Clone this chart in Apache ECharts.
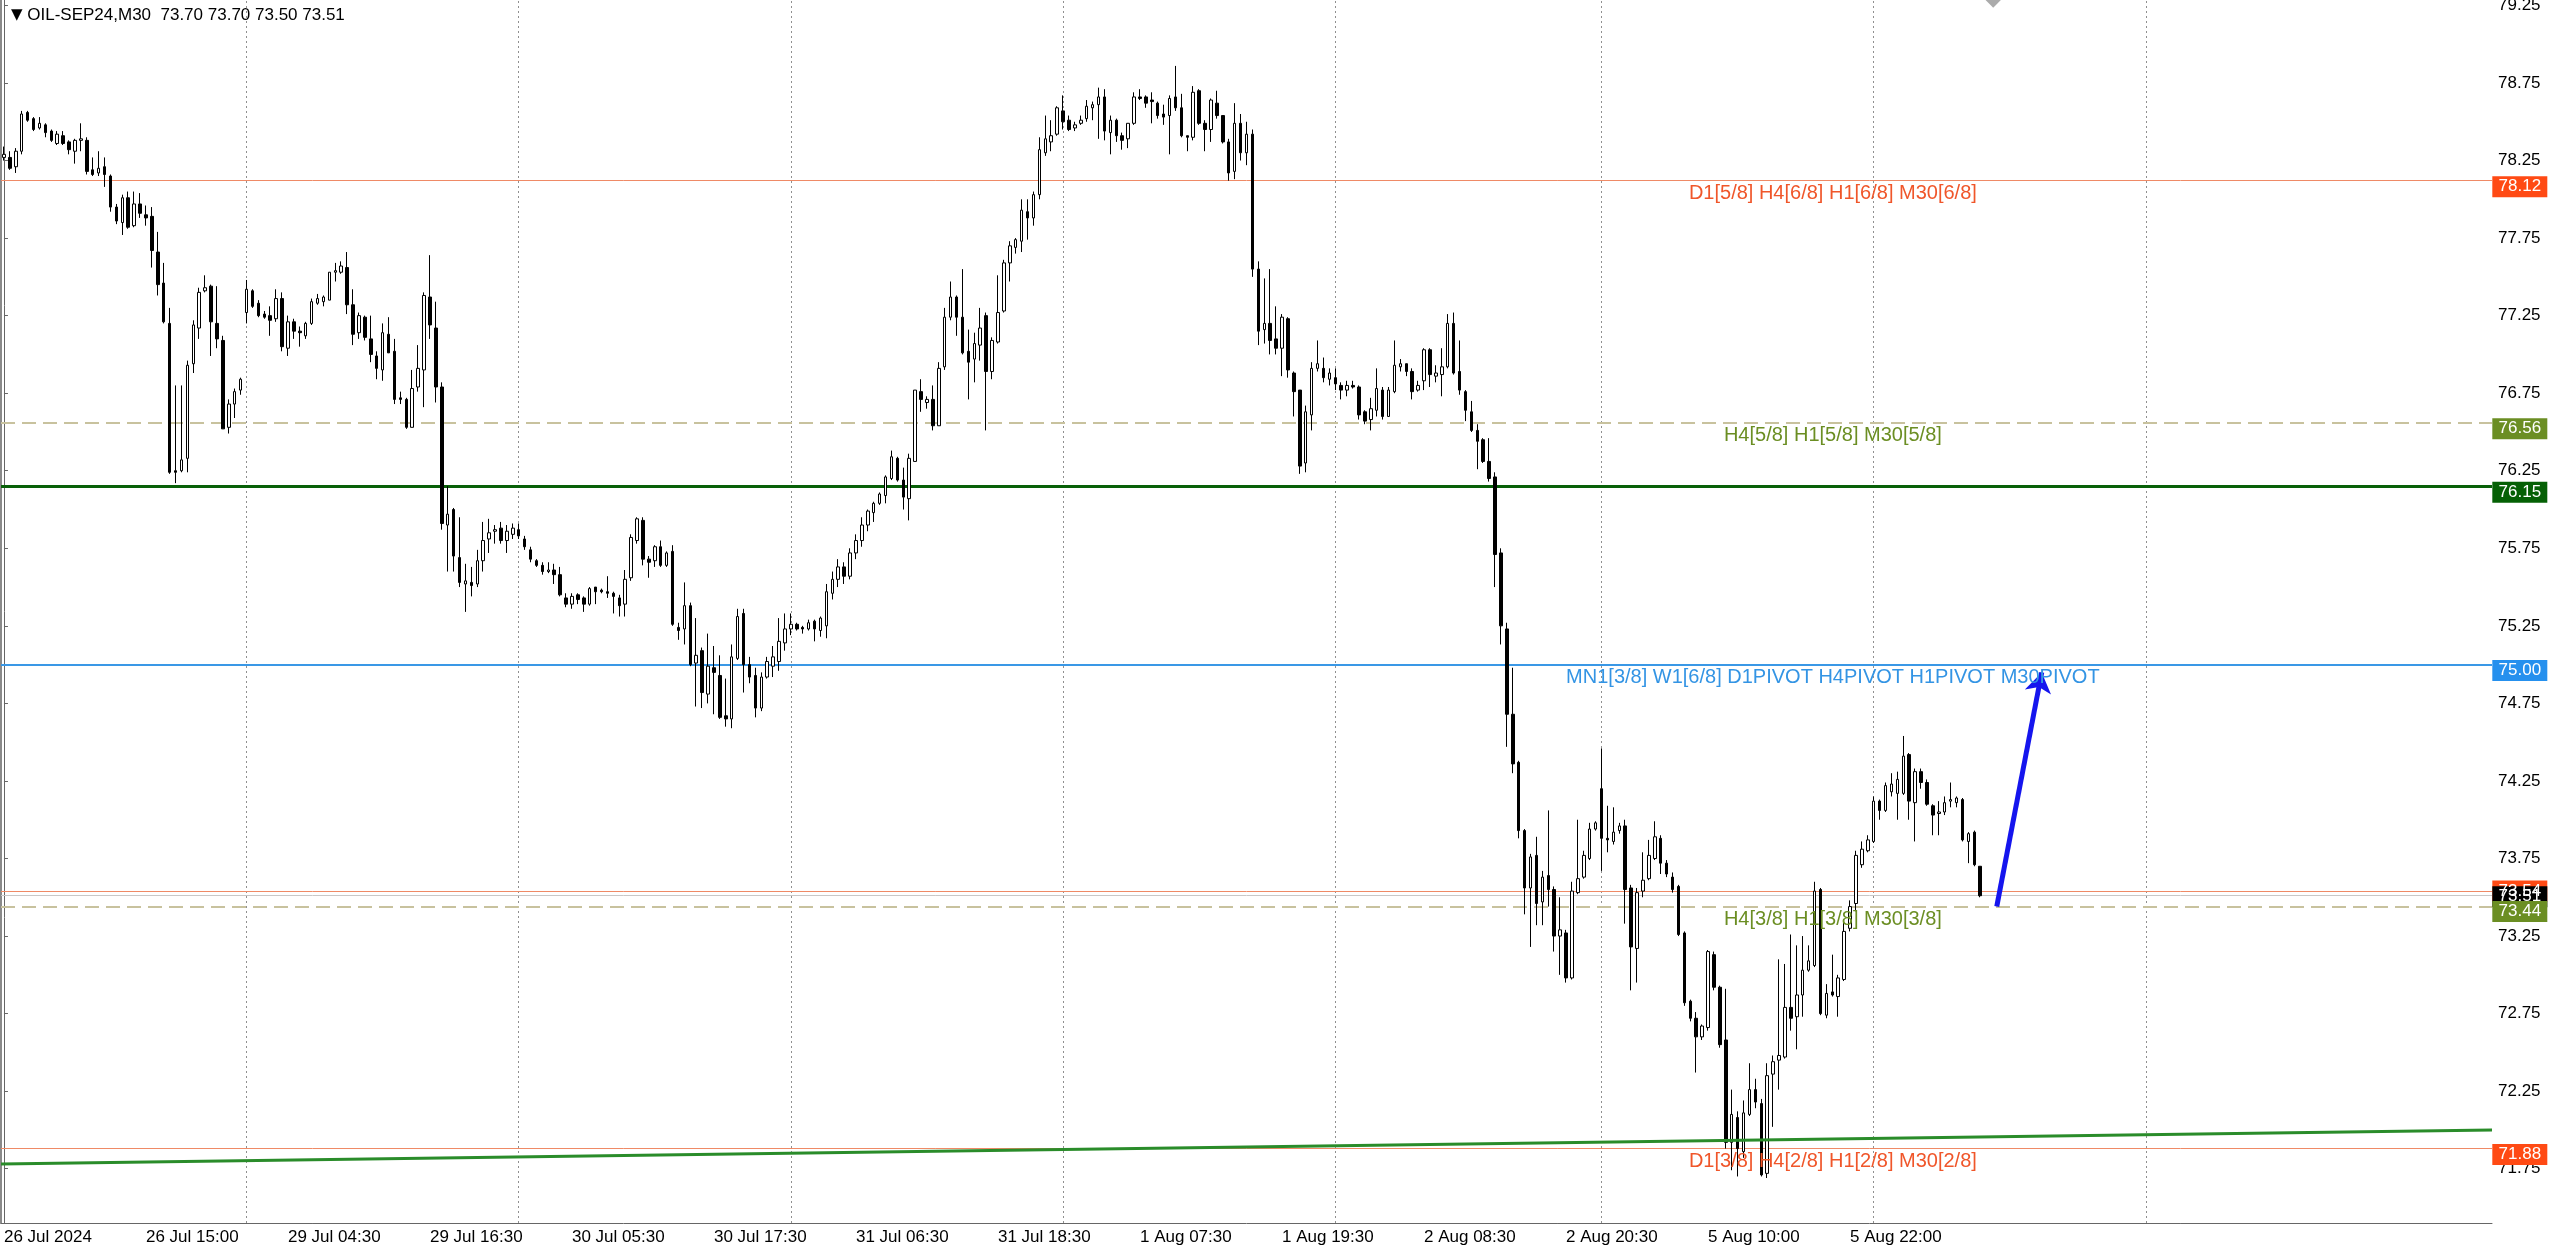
<!DOCTYPE html>
<html>
<head>
<meta charset="utf-8">
<title>OIL-SEP24,M30</title>
<script src="https://cdn.jsdelivr.net/npm/echarts@6/dist/echarts.min.js"></script>
<style>
html, body { margin: 0; padding: 0; background: #fff; }
#chart { width: 2560px; height: 1249px; }
</style>
</head>
<body>
<div id="chart"></div>
<script>
// M30 bars, left to right (open / close / low / high)
const opens = [
  78.27, 78.27, 78.21, 78.31, 78.56, 78.52, 78.46, 78.48, 78.44, 78.36,
  78.41, 78.37, 78.31, 78.38, 78.38, 78.19, 78.17, 78.21, 78.15, 77.95,
  77.85, 78.01, 77.83, 77.97, 77.90, 77.89, 77.66, 77.46, 77.20, 76.25,
  76.25, 76.33, 76.94, 77.17, 77.41, 77.44, 77.20, 77.09, 76.53, 76.68,
  76.77, 77.27, 77.41, 77.33, 77.26, 77.25, 77.23, 77.36, 77.04, 77.21,
  77.15, 77.12, 77.20, 77.33, 77.34, 77.35, 77.53, 77.53, 77.56, 77.32,
  77.14, 77.24, 77.10, 76.99, 76.90, 77.13, 77.02, 76.72, 76.71, 76.53,
  76.79, 76.90, 77.37, 77.17, 76.79, 75.90, 76.00, 75.69, 75.52, 75.53,
  75.52, 75.67, 75.81, 75.86, 75.88, 75.80, 75.84, 75.87, 75.81, 75.74,
  75.67, 75.64, 75.60, 75.61, 75.58, 75.43, 75.39, 75.45, 75.43, 75.39,
  75.50, 75.48, 75.47, 75.46, 75.43, 75.39, 75.56, 75.80, 75.93, 75.68,
  75.67, 75.76, 75.64, 75.73, 75.24, 75.23, 75.38, 75.01, 75.09, 74.81,
  74.98, 74.93, 74.67, 74.65, 75.04, 75.33, 75.00, 74.93, 74.72, 74.92,
  74.99, 75.02, 75.14, 75.23, 75.26, 75.24, 75.23, 75.28, 75.22, 75.25,
  75.46, 75.55, 75.63, 75.57, 75.72, 75.80, 75.90, 75.98, 76.04, 76.09,
  76.20, 76.33, 76.19, 76.07, 76.31, 76.76, 76.69, 76.71, 76.54, 76.92,
  77.24, 77.37, 77.24, 77.02, 76.97, 77.06, 77.25, 76.89, 77.08, 77.28,
  77.59, 77.69, 77.73, 77.92, 77.88, 78.03, 78.30, 78.37, 78.42, 78.57,
  78.51, 78.46, 78.49, 78.52, 78.59, 78.61, 78.66, 78.43, 78.51, 78.41,
  78.39, 78.49, 78.66, 78.66, 78.64, 78.62, 78.55, 78.54, 78.66, 78.59,
  78.41, 78.40, 78.70, 78.49, 78.45, 78.62, 78.54, 78.37, 78.18, 78.49,
  78.30, 78.42, 77.55, 77.16, 77.20, 77.10, 77.04, 77.23, 76.88, 76.77,
  76.30, 76.61, 76.91, 76.91, 76.84, 76.85, 76.80, 76.77, 76.80, 76.79,
  76.63, 76.58, 76.64, 76.77, 76.60, 76.76, 76.92, 76.94, 76.89, 76.77,
  76.83, 77.03, 76.86, 76.87, 76.92, 77.20, 76.89, 76.76, 76.63, 76.51,
  76.45, 76.31, 76.21, 75.72, 75.23, 74.68, 74.37, 73.93, 73.56, 73.77,
  73.47, 73.64, 73.55, 73.25, 73.27, 72.98, 73.53, 73.63, 73.75, 73.94,
  74.20, 73.88, 73.86, 73.93, 73.96, 73.56, 73.17, 73.54, 73.62, 73.75,
  73.88, 73.72, 73.63, 73.57, 73.27, 72.83, 72.72, 72.60, 72.66, 73.13,
  72.92, 72.58, 71.92, 72.08, 71.86, 72.10, 72.26, 72.17, 71.72, 72.36,
  72.45, 72.47, 72.79, 72.73, 72.87, 73.03, 73.06, 73.55, 72.74, 72.89,
  72.86, 72.97, 73.30, 73.46, 73.71, 73.80, 73.86, 74.12, 74.06, 74.18,
  74.17, 74.17, 74.42, 74.11, 74.31, 74.24, 74.09, 74.04, 74.05, 74.12,
  74.11, 74.13, 73.86, 73.92, 73.70
];
const closes = [
  78.29, 78.20, 78.31, 78.55, 78.51, 78.45, 78.49, 78.43, 78.38, 78.42,
  78.36, 78.32, 78.38, 78.39, 78.18, 78.16, 78.20, 78.16, 77.95, 77.86,
  78.01, 77.82, 77.97, 77.91, 77.88, 77.67, 77.45, 77.21, 76.24, 76.24,
  76.32, 76.93, 77.19, 77.40, 77.43, 77.21, 77.10, 76.52, 76.68, 76.76,
  76.84, 77.42, 77.31, 77.25, 77.24, 77.22, 77.36, 77.05, 77.21, 77.15,
  77.14, 77.20, 77.34, 77.36, 77.37, 77.53, 77.54, 77.57, 77.32, 77.13,
  77.25, 77.11, 77.00, 76.91, 77.14, 77.01, 76.71, 76.71, 76.53, 76.78,
  76.91, 77.38, 77.19, 76.79, 75.91, 75.97, 75.70, 75.53, 75.54, 75.51,
  75.67, 75.80, 75.85, 75.87, 75.80, 75.86, 75.88, 75.83, 75.76, 75.68,
  75.64, 75.60, 75.61, 75.58, 75.45, 75.39, 75.44, 75.42, 75.39, 75.49,
  75.47, 75.47, 75.46, 75.44, 75.38, 75.55, 75.82, 75.94, 75.68, 75.66,
  75.76, 75.64, 75.72, 75.26, 75.22, 75.38, 75.00, 75.06, 74.82, 74.99,
  74.95, 74.66, 74.65, 75.05, 75.31, 75.00, 74.92, 74.72, 74.92, 75.02,
  75.05, 75.15, 75.23, 75.26, 75.23, 75.23, 75.27, 75.23, 75.30, 75.47,
  75.55, 75.63, 75.57, 75.72, 75.80, 75.90, 75.99, 76.04, 76.10, 76.21,
  76.34, 76.19, 76.08, 76.33, 76.77, 76.71, 76.71, 76.54, 76.91, 77.24,
  77.37, 77.24, 77.01, 76.95, 77.07, 77.17, 76.89, 77.09, 77.27, 77.59,
  77.70, 77.74, 77.93, 77.88, 78.03, 78.32, 78.39, 78.41, 78.59, 78.50,
  78.45, 78.48, 78.51, 78.60, 78.61, 78.66, 78.44, 78.51, 78.41, 78.38,
  78.49, 78.66, 78.65, 78.62, 78.63, 78.54, 78.53, 78.65, 78.59, 78.41,
  78.40, 78.69, 78.49, 78.45, 78.64, 78.54, 78.37, 78.17, 78.49, 78.30,
  78.42, 77.55, 77.15, 77.20, 77.09, 77.04, 77.24, 76.90, 76.76, 76.28,
  76.63, 76.91, 76.94, 76.85, 76.88, 76.81, 76.77, 76.80, 76.79, 76.61,
  76.57, 76.65, 76.78, 76.60, 76.77, 76.93, 76.94, 76.89, 76.76, 76.80,
  77.03, 76.87, 76.88, 76.92, 77.20, 76.88, 76.77, 76.64, 76.51, 76.44,
  76.31, 76.20, 75.71, 75.25, 74.68, 74.36, 73.93, 73.56, 73.76, 73.46,
  73.63, 73.55, 73.25, 73.29, 72.98, 73.54, 73.62, 73.77, 73.94, 73.98,
  73.88, 73.87, 73.92, 73.96, 73.55, 73.18, 73.53, 73.61, 73.77, 73.89,
  73.72, 73.65, 73.55, 73.26, 72.82, 72.72, 72.60, 72.67, 73.15, 72.92,
  72.55, 71.92, 72.10, 71.88, 72.11, 72.26, 72.18, 71.71, 72.35, 72.44,
  72.48, 72.79, 72.72, 72.87, 73.03, 73.09, 73.54, 72.75, 72.88, 72.87,
  72.98, 73.28, 73.44, 73.77, 73.81, 73.87, 74.12, 74.06, 74.22, 74.23,
  74.26, 74.41, 74.12, 74.31, 74.24, 74.10, 74.03, 74.05, 74.11, 74.13,
  74.14, 73.87, 73.91, 73.71, 73.51
];
const lows = [
  78.25, 78.19, 78.17, 78.29, 78.50, 78.44, 78.45, 78.40, 78.37, 78.35,
  78.35, 78.29, 78.23, 78.31, 78.16, 78.15, 78.15, 78.08, 77.92, 77.84,
  77.77, 77.81, 77.82, 77.88, 77.83, 77.56, 77.38, 77.20, 76.23, 76.17,
  76.24, 76.24, 76.88, 77.10, 77.40, 76.99, 77.04, 76.52, 76.49, 76.59,
  76.74, 77.20, 77.30, 77.24, 77.23, 77.12, 77.21, 77.02, 76.99, 77.10,
  77.05, 77.10, 77.19, 77.32, 77.31, 77.35, 77.47, 77.52, 77.26, 77.06,
  77.10, 77.09, 76.95, 76.84, 76.83, 77.01, 76.68, 76.68, 76.52, 76.53,
  76.76, 76.66, 77.10, 76.69, 75.87, 75.60, 75.60, 75.50, 75.34, 75.44,
  75.50, 75.60, 75.72, 75.78, 75.78, 75.72, 75.81, 75.81, 75.74, 75.66,
  75.63, 75.58, 75.59, 75.52, 75.44, 75.37, 75.36, 75.39, 75.34, 75.38,
  75.39, 75.46, 75.43, 75.33, 75.31, 75.31, 75.54, 75.78, 75.64, 75.56,
  75.63, 75.63, 75.63, 75.25, 75.16, 75.13, 74.99, 74.73, 74.72, 74.75,
  74.68, 74.65, 74.60, 74.59, 75.03, 74.82, 74.88, 74.66, 74.70, 74.91,
  74.92, 74.96, 75.09, 75.19, 75.22, 75.20, 75.22, 75.15, 75.18, 75.17,
  75.42, 75.50, 75.52, 75.55, 75.68, 75.76, 75.86, 75.92, 76.03, 76.04,
  76.19, 76.18, 76.00, 75.93, 76.31, 76.63, 76.65, 76.51, 76.54, 76.90,
  77.22, 77.12, 77.00, 76.71, 76.82, 76.96, 76.51, 76.84, 77.07, 77.27,
  77.47, 77.65, 77.66, 77.74, 77.83, 78.00, 78.28, 78.31, 78.41, 78.45,
  78.44, 78.44, 78.48, 78.50, 78.51, 78.39, 78.38, 78.29, 78.37, 78.32,
  78.33, 78.48, 78.64, 78.59, 78.49, 78.52, 78.48, 78.29, 78.57, 78.40,
  78.31, 78.38, 78.48, 78.31, 78.37, 78.52, 78.36, 78.12, 78.13, 78.25,
  78.22, 77.50, 77.06, 77.07, 77.00, 77.00, 76.86, 76.85, 76.60, 76.23,
  76.24, 76.51, 76.89, 76.82, 76.80, 76.77, 76.71, 76.73, 76.78, 76.58,
  76.55, 76.51, 76.60, 76.58, 76.60, 76.75, 76.89, 76.86, 76.71, 76.76,
  76.77, 76.79, 76.82, 76.73, 76.91, 76.87, 76.74, 76.57, 76.50, 76.26,
  76.30, 76.18, 75.50, 75.13, 74.47, 74.30, 73.88, 73.39, 73.18, 73.32,
  73.32, 73.44, 73.15, 73.00, 72.95, 72.97, 73.52, 73.62, 73.74, 73.93,
  73.67, 73.79, 73.84, 73.91, 73.33, 72.90, 72.95, 73.50, 73.61, 73.74,
  73.65, 73.63, 73.53, 73.25, 72.80, 72.70, 72.37, 72.58, 72.64, 72.90,
  72.53, 71.88, 71.74, 71.70, 71.82, 72.09, 72.14, 71.70, 71.69, 72.02,
  72.26, 72.46, 72.64, 72.52, 72.73, 73.02, 73.05, 72.74, 72.72, 72.86,
  72.73, 72.96, 73.28, 73.41, 73.69, 73.79, 73.85, 74.00, 74.05, 74.15,
  74.00, 74.16, 74.00, 73.86, 74.20, 74.09, 73.90, 73.90, 74.03, 74.08,
  74.08, 73.86, 73.72, 73.70, 73.50
];
const highs = [
  78.34, 78.31, 78.33, 78.57, 78.57, 78.53, 78.53, 78.49, 78.45, 78.44,
  78.44, 78.38, 78.39, 78.49, 78.40, 78.27, 78.31, 78.27, 78.16, 77.97,
  78.03, 78.05, 78.05, 78.04, 77.96, 77.95, 77.79, 77.59, 77.30, 76.80,
  76.80, 76.96, 77.22, 77.43, 77.51, 77.45, 77.44, 77.12, 76.71, 76.78,
  76.85, 77.48, 77.42, 77.35, 77.28, 77.31, 77.42, 77.40, 77.25, 77.23,
  77.18, 77.21, 77.36, 77.39, 77.38, 77.53, 77.59, 77.60, 77.66, 77.42,
  77.27, 77.25, 77.25, 77.02, 77.20, 77.24, 77.10, 76.76, 76.72, 76.90,
  77.06, 77.40, 77.64, 77.34, 76.82, 76.15, 76.01, 75.95, 75.65, 75.63,
  75.74, 75.92, 75.94, 75.90, 75.92, 75.90, 75.91, 75.91, 75.83, 75.76,
  75.68, 75.66, 75.66, 75.65, 75.63, 75.46, 75.46, 75.46, 75.44, 75.50,
  75.50, 75.49, 75.57, 75.47, 75.45, 75.61, 75.84, 75.95, 75.95, 75.70,
  75.77, 75.80, 75.73, 75.77, 75.27, 75.53, 75.40, 75.30, 75.11, 75.20,
  75.12, 75.06, 74.91, 75.13, 75.36, 75.36, 75.05, 74.98, 74.95, 75.05,
  75.12, 75.30, 75.33, 75.33, 75.27, 75.25, 75.29, 75.29, 75.31, 75.52,
  75.60, 75.68, 75.66, 75.75, 75.84, 75.95, 76.00, 76.05, 76.11, 76.22,
  76.38, 76.34, 76.27, 76.36, 76.77, 76.84, 76.73, 76.80, 76.95, 77.30,
  77.47, 77.38, 77.55, 77.16, 77.14, 77.30, 77.27, 77.11, 77.51, 77.61,
  77.73, 77.75, 78.00, 78.00, 78.05, 78.40, 78.54, 78.51, 78.60, 78.67,
  78.54, 78.50, 78.54, 78.64, 78.63, 78.72, 78.71, 78.54, 78.52, 78.43,
  78.49, 78.69, 78.71, 78.67, 78.69, 78.63, 78.61, 78.67, 78.86, 78.68,
  78.41, 78.73, 78.71, 78.51, 78.65, 78.70, 78.54, 78.39, 78.62, 78.55,
  78.50, 78.45, 77.60, 77.49, 77.55, 77.31, 77.26, 77.24, 76.89, 76.77,
  76.67, 76.95, 77.09, 76.98, 76.91, 76.91, 76.82, 76.83, 76.83, 76.80,
  76.64, 76.72, 76.91, 76.79, 76.79, 77.09, 76.97, 76.94, 76.91, 76.83,
  77.04, 77.04, 76.93, 77.04, 77.26, 77.27, 77.09, 76.77, 76.70, 76.55,
  76.46, 76.46, 76.24, 75.75, 75.27, 74.98, 74.38, 73.94, 73.78, 73.89,
  73.67, 74.06, 73.57, 73.50, 73.29, 73.60, 74.00, 73.80, 73.98, 73.99,
  74.46, 74.09, 74.08, 73.98, 74.00, 73.58, 73.56, 73.79, 73.87, 73.99,
  73.90, 73.74, 73.66, 73.58, 73.28, 72.84, 72.76, 72.68, 73.16, 73.15,
  72.93, 72.91, 72.26, 72.12, 72.19, 72.43, 72.33, 72.20, 72.43, 72.48,
  73.10, 73.07, 73.26, 73.19, 73.25, 73.19, 73.60, 73.56, 72.94, 73.13,
  73.00, 73.36, 73.48, 73.80, 73.86, 73.90, 74.15, 74.13, 74.24, 74.30,
  74.31, 74.54, 74.43, 74.33, 74.33, 74.26, 74.10, 74.12, 74.15, 74.24,
  74.15, 74.14, 73.92, 73.93, 73.70
];

// time scale: one label every 24 bars, day separators at the first bar of each day
const tickLabels = ['26 Jul 2024', '26 Jul 15:00', '29 Jul 04:30', '29 Jul 16:30', '30 Jul 05:30',
  '30 Jul 17:30', '31 Jul 06:30', '31 Jul 18:30', '1 Aug 07:30', '1 Aug 19:30', '2 Aug 08:30',
  '2 Aug 20:30', '5 Aug 10:00', '5 Aug 22:00'];
const tickStep = 24;
const daySeparators = [41, 87, 133, 179, 225, 270, 316, 362];
const slotCount = 421; // bars + empty shift on the right

const priceTicks = [71.75, 72.25, 72.75, 73.25, 73.75, 74.25, 74.75, 75.25, 75.75,
  76.25, 76.75, 77.25, 77.75, 78.25, 78.75, 79.25];

// horizontal levels and their notes
const levelPrices = [78.12, 76.56, 76.15, 75.00, 73.54, 73.51, 73.44, 71.88];
const levelNotes = ['D1[5/8] H4[6/8] H1[6/8] M30[6/8]', 'H4[5/8] H1[5/8] M30[5/8]', '',
  'MN1[3/8] W1[6/8] D1PIVOT H4PIVOT H1PIVOT M30PIVOT', '', '',
  'H4[3/8] H1[3/8] M30[3/8]', 'D1[3/8] H4[2/8] H1[2/8] M30[2/8]'];

// drawn objects, in bar units on the hidden value axis
const trendLine = [[-0.5, 71.78], [420.5, 72.00]];
const arrowFrom = [336.8, 73.44];
const arrowTo = [344.4, 74.95];
const diamondMark = [336.2, 79.30];
const noteX = 309.1;
const tagX = 425.2;

const FONT = "'Liberation Sans', Arial, sans-serif";
const RED = '#FF4A14', OLIVE = '#6B8E23';
const levelLook = [
  { line: '#EF8A66', width: 1, type: 'solid', tag: RED, text: '#F0562A', shift: 6 },
  { line: '#C8C29E', width: 2, type: [14, 7], tag: OLIVE, text: OLIVE, shift: 6 },
  { line: '#086008', width: 3, type: 'solid', tag: '#056005', text: '', shift: 6 },
  { line: '#3A98E6', width: 2, type: 'solid', tag: '#2590EE', text: '#3394E4', shift: 6 },
  { line: '#EF8A66', width: 1, type: 'solid', tag: RED, text: '', shift: 0 },
  { line: '#C8C8C8', width: 1, type: 'solid', tag: '#000', text: '', shift: 1 },
  { line: '#C8C29E', width: 2, type: [14, 7], tag: OLIVE, text: OLIVE, shift: 5 },
  { line: '#EF8A66', width: 1, type: 'solid', tag: RED, text: '#F0562A', shift: 6 }
];
const tagOrder = [0, 1, 2, 3, 7, 4, 5, 6];

const candles = opens.map((o, i) => [o, closes[i], lows[i], highs[i]]);
const slots = Array.from({ length: slotCount }, (_, i) => String(i));
const isTick = i => i % tickStep === 0 && i / tickStep < tickLabels.length;

const chart = echarts.init(document.getElementById('chart'));

const option = {
  animation: false,
  backgroundColor: '#fff',
  title: {
    left: 6, top: 2,
    text: '{tri|▼} OIL-SEP24,M30  73.70 73.70 73.50 73.51',
    textStyle: {
      fontFamily: FONT, fontSize: 17, fontWeight: 'normal', color: '#000',
      rich: { tri: { fontSize: 15, color: '#000', fontFamily: "'DejaVu Sans', sans-serif" } }
    }
  },
  grid: { left: 1, right: 68, top: 0, bottom: 26, containLabel: false, outerBoundsMode: 'none' },
  xAxis: [
    {
      type: 'category',
      data: slots,
      boundaryGap: true,
      axisLine: { lineStyle: { color: '#666', width: 1 } },
      axisTick: { interval: isTick, alignWithLabel: true, length: 5, lineStyle: { color: '#666' } },
      axisLabel: {
        interval: isTick,
        formatter: (v, idx) => tickLabels[idx / tickStep] || '',
        align: 'left', margin: 6, color: '#000', fontSize: 17, fontFamily: FONT
      },
      splitLine: { show: false }
    },
    { type: 'value', min: -0.5, max: slotCount - 0.5, show: false }
  ],
  yAxis: [
    {
      type: 'value', position: 'right', min: 71.40, max: 79.285,
      axisLine: { show: true, lineStyle: { color: '#666', width: 1 } },
      axisTick: { show: true, customValues: priceTicks, length: 4, lineStyle: { color: '#666' } },
      axisLabel: {
        customValues: priceTicks, formatter: v => v.toFixed(2),
        margin: 6, color: '#000', fontSize: 17, fontFamily: FONT
      },
      splitLine: { show: false }
    },
    {
      type: 'value', position: 'left', min: 71.40, max: 79.285,
      axisLine: { show: true, lineStyle: { color: '#8a8a8a', width: 2 } },
      axisTick: { show: false }, axisLabel: { show: false }, splitLine: { show: false }
    }
  ],
  series: [
    {
      type: 'candlestick',
      xAxisIndex: 0, yAxisIndex: 0,
      data: candles,
      barWidth: 3,
      z: 3,
      silent: true,
      itemStyle: { color: '#fff', color0: '#000', borderColor: '#000', borderColor0: '#000', borderWidth: 1 },
      markLine: {
        silent: true, symbol: 'none', z: 1, animation: false,
        label: { show: false },
        data: daySeparators.map(i => ({ xAxis: i, lineStyle: { color: '#8f8f8f', type: [2, 3], width: 1 } }))
          .concat(levelPrices.map((p, k) => ({
            yAxis: p,
            lineStyle: { color: levelLook[k].line, width: levelLook[k].width, type: levelLook[k].type }
          })))
      }
    },
    {
      type: 'line', xAxisIndex: 1, yAxisIndex: 0, data: trendLine,
      symbol: 'none', silent: true, z: 4,
      lineStyle: { color: '#2A8C2A', width: 3 }
    },
    {
      type: 'line', xAxisIndex: 1, yAxisIndex: 0, data: [],
      silent: true, z: 6,
      markLine: {
        silent: true, z: 6, animation: false,
        symbol: ['none', 'arrow'], symbolSize: 20,
        label: { show: false },
        lineStyle: { color: '#1515EE', width: 5, type: 'solid', opacity: 1 },
        data: [[{ coord: arrowFrom }, { coord: arrowTo }]]
      }
    },
    {
      type: 'scatter', xAxisIndex: 1, yAxisIndex: 0, silent: true, z: 7,
      symbolSize: 1, itemStyle: { color: 'rgba(0,0,0,0)', opacity: 1 },
      data: levelNotes.map((t, k) => t ? {
        value: [noteX, levelPrices[k]], name: t,
        label: { color: levelLook[k].text }
      } : null).filter(Boolean),
      label: {
        show: true, position: 'bottom', distance: 2, opacity: 1,
        formatter: p => p.name, fontSize: 20, fontFamily: FONT
      }
    },
    {
      type: 'scatter', xAxisIndex: 1, yAxisIndex: 0, silent: true, clip: false, z: 5,
      symbol: 'diamond', symbolSize: 20,
      itemStyle: { color: '#ABABAB', opacity: 1 },
      data: [diamondMark]
    },
    {
      type: 'scatter', xAxisIndex: 1, yAxisIndex: 0, silent: true, clip: false, z: 10,
      symbol: 'rect', symbolSize: [55, 21],
      data: tagOrder.map(k => ({
        value: [tagX, levelPrices[k]],
        symbolOffset: [0, levelLook[k].shift],
        itemStyle: { color: levelLook[k].tag, opacity: 1 }
      })),
      label: {
        show: true, position: 'inside', color: '#fff', fontSize: 17, fontFamily: FONT, opacity: 1,
        formatter: p => p.value[1].toFixed(2)
      }
    }
  ]
};

chart.setOption(option);
</script>
</body>
</html>
